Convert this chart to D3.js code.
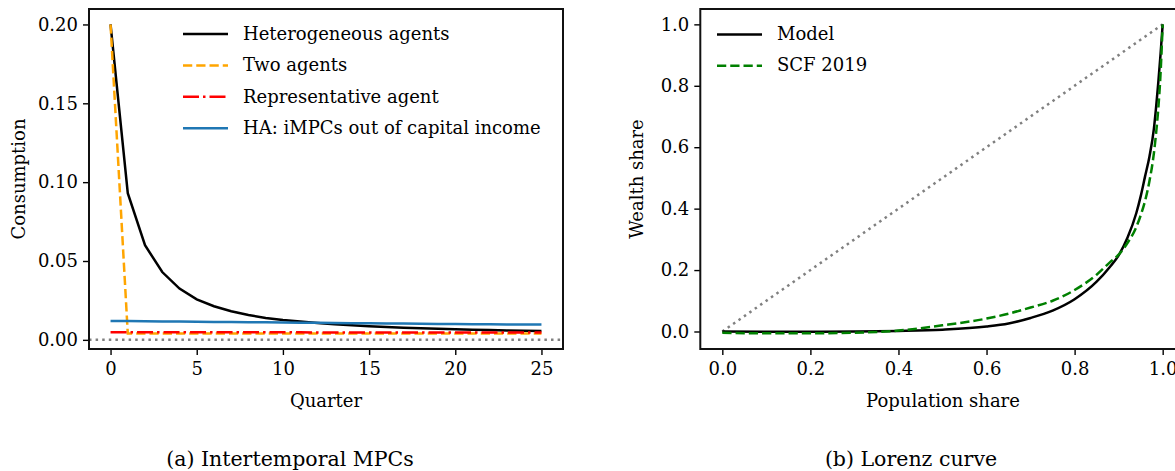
<!DOCTYPE html>
<html>
<head>
<meta charset="utf-8">
<script src="https://cdn.jsdelivr.net/npm/d3@7"></script>
<style>
  body { margin: 0; background: #fff; }
  svg text { font-family: "DejaVu Serif", serif; fill: #000; }
</style>
</head>
<body>
<svg id="chart" width="1175" height="471"></svg>
<script>
// ---- panel (a): intertemporal MPCs ----
const quarters = d3.range(0, 26);
const hetAgents = [0.2, 0.093, 0.060, 0.043, 0.0325, 0.0257, 0.0213, 0.0181, 0.0158, 0.0139,
  0.0126, 0.0116, 0.0107, 0.0099, 0.0092, 0.0086, 0.0081, 0.0077, 0.0073, 0.0070,
  0.0067, 0.0064, 0.0062, 0.0060, 0.0058, 0.0056];
const twoAgents = [0.2, 0.004, 0.004, 0.004, 0.004, 0.004, 0.004, 0.004, 0.004, 0.004,
  0.004, 0.004, 0.004, 0.004, 0.004, 0.004, 0.004, 0.004, 0.004, 0.004,
  0.004, 0.004, 0.004, 0.004, 0.004, 0.004];
const repAgent = [0.0049, 0.0049, 0.0049, 0.0049, 0.0049, 0.0048, 0.0048, 0.0048, 0.0048, 0.0048,
  0.0048, 0.0048, 0.0047, 0.0047, 0.0047, 0.0047, 0.0047, 0.0047, 0.0047, 0.0046,
  0.0046, 0.0046, 0.0046, 0.0046, 0.0046, 0.0046];
const haCapital = [0.0120, 0.0119, 0.0118, 0.0117, 0.0116, 0.0115, 0.0114, 0.0113, 0.0112, 0.0111,
  0.0110, 0.0109, 0.0108, 0.0107, 0.0106, 0.0105, 0.0104, 0.0103, 0.0102, 0.0101,
  0.0100, 0.0099, 0.0099, 0.0098, 0.0097, 0.0097];
const mpcTicksX = [0, 5, 10, 15, 20, 25];
const mpcTicksY = [0, 0.05, 0.10, 0.15, 0.20];

// ---- panel (b): Lorenz curve ----
const popShare = [0, 0.1, 0.2, 0.3, 0.4, 0.5, 0.6, 0.65, 0.7, 0.75, 0.8, 0.85, 0.88, 0.9,
  0.92, 0.94, 0.95, 0.96, 0.97, 0.98, 0.985, 0.99, 0.995, 1.0];
const modelWealth = [0, -0.001, -0.001, 0, 0.002, 0.006, 0.016, 0.026, 0.044, 0.068, 0.105, 0.162, 0.21, 0.248,
  0.305, 0.385, 0.44, 0.505, 0.57, 0.66, 0.73, 0.81, 0.9, 1.0];
const scfWealth = [-0.004, -0.006, -0.006, -0.004, 0.003, 0.02, 0.042, 0.058, 0.078, 0.1, 0.135, 0.185, 0.225, 0.25,
  0.288, 0.34, 0.378, 0.425, 0.49, 0.58, 0.645, 0.725, 0.835, 1.0];
const lorenzTicks = [0, 0.2, 0.4, 0.6, 0.8, 1.0];

const svg = d3.select("#chart");
const lw = 2.5;
const fs = 18;

function makePanel(opt) {
  const g = svg.append("g");
  const x = d3.scaleLinear().domain(opt.xDomain).range([opt.left, opt.right]);
  const y = d3.scaleLinear().domain(opt.yDomain).range([opt.bottom, opt.top]);

  g.append("clipPath").attr("id", opt.id + "clip")
    .append("rect")
    .attr("x", opt.left).attr("y", opt.top)
    .attr("width", opt.right - opt.left).attr("height", opt.bottom - opt.top);

  const plot = g.append("g").attr("clip-path", `url(#${opt.id}clip)`);

  // axes
  const xAxis = g.append("g")
    .attr("transform", `translate(0,${opt.bottom})`)
    .call(d3.axisBottom(x).tickValues(opt.xTicks).tickFormat(opt.xFmt).tickSize(6).tickPadding(5));
  const yAxis = g.append("g")
    .attr("transform", `translate(${opt.left},0)`)
    .call(d3.axisLeft(y).tickValues(opt.yTicks).tickFormat(opt.yFmt).tickSize(6).tickPadding(5));
  [xAxis, yAxis].forEach(a => {
    a.select(".domain").remove();
    a.selectAll(".tick line").attr("stroke", "#000").attr("stroke-width", 1.4);
    a.selectAll(".tick text").attr("font-size", fs).attr("font-family", "DejaVu Serif");
  });
  xAxis.selectAll(".tick text").attr("dy", "0.85em");

  // frame
  g.append("rect")
    .attr("x", opt.left).attr("y", opt.top)
    .attr("width", opt.right - opt.left).attr("height", opt.bottom - opt.top)
    .attr("fill", "none").attr("stroke", "#111").attr("stroke-width", 2);

  // axis titles
  g.append("text")
    .attr("x", opt.xLabelX).attr("y", 407)
    .attr("text-anchor", "middle").attr("font-size", fs)
    .text(opt.xLabel);
  g.append("text")
    .attr("transform", `translate(${opt.yLabelX},${(opt.top + opt.bottom) / 2}) rotate(-90)`)
    .attr("text-anchor", "middle").attr("font-size", fs)
    .text(opt.yLabel);
  g.append("text")
    .attr("x", opt.captionX).attr("y", 466)
    .attr("text-anchor", "middle").attr("font-size", 20.5)
    .text(opt.caption);

  return { g, plot, x, y };
}

function legend(g, items, x0, y0, step) {
  items.forEach((it, i) => {
    const yy = y0 + i * step;
    g.append("line")
      .attr("x1", x0).attr("x2", x0 + 45).attr("y1", yy).attr("y2", yy)
      .attr("stroke", it.color).attr("stroke-width", lw)
      .attr("stroke-dasharray", it.dash || null);
    g.append("text")
      .attr("x", x0 + 60).attr("y", yy)
      .attr("dy", "0.32em").attr("font-size", fs)
      .text(it.label);
  });
}

const dashed = "9.25,4";
const dashDot = "16,4,2.5,4";
const dotted = "2.5,4.1";

// ---- panel (a) ----
const A = makePanel({
  id: "a", left: 89, right: 563, top: 9, bottom: 349,
  xDomain: [-1.25, 26.25], yDomain: [-0.0058, 0.2098],
  xTicks: mpcTicksX, yTicks: mpcTicksY,
  xFmt: d3.format("d"), yFmt: d3.format(".2f"),
  xLabel: "Quarter", xLabelX: 326,
  yLabel: "Consumption", yLabelX: 25,
  caption: "(a) Intertemporal MPCs", captionX: 290
});

A.plot.append("line")
  .attr("x1", A.x.range()[0]).attr("x2", A.x.range()[1])
  .attr("y1", A.y(0)).attr("y2", A.y(0))
  .attr("stroke", "#808080").attr("stroke-width", lw).attr("stroke-dasharray", dotted);

const lineA = vals => d3.line().x((d, i) => A.x(quarters[i])).y(d => A.y(d))(vals);
const seriesA = [
  { vals: hetAgents, color: "#000", label: "Heterogeneous agents" },
  { vals: twoAgents, color: "#FFA500", dash: dashed, label: "Two agents" },
  { vals: repAgent, color: "#FF0000", dash: dashDot, label: "Representative agent" },
  { vals: haCapital, color: "#1f77b4", label: "HA: iMPCs out of capital income" }
];
seriesA.forEach(s => {
  A.plot.append("path")
    .attr("d", lineA(s.vals))
    .attr("fill", "none").attr("stroke", s.color).attr("stroke-width", lw)
    .attr("stroke-dasharray", s.dash || null);
});
legend(A.g, seriesA, 183, 34, 31.4);

// ---- panel (b) ----
const B = makePanel({
  id: "b", left: 700.3, right: 1184.7, top: 9, bottom: 349,
  xDomain: [-0.05, 1.05], yDomain: [-0.057, 1.05],
  xTicks: lorenzTicks, yTicks: lorenzTicks,
  xFmt: d3.format(".1f"), yFmt: d3.format(".1f"),
  xLabel: "Population share", xLabelX: 943,
  yLabel: "Wealth share", yLabelX: 643,
  caption: "(b) Lorenz curve", captionX: 911
});

B.plot.append("line")
  .attr("x1", B.x(0)).attr("x2", B.x(1))
  .attr("y1", B.y(0)).attr("y2", B.y(1))
  .attr("stroke", "#808080").attr("stroke-width", lw).attr("stroke-dasharray", dotted);

const lineB = vals => d3.line().curve(d3.curveMonotoneX)
  .x((d, i) => B.x(popShare[i])).y(d => B.y(d))(vals);
const seriesB = [
  { vals: modelWealth, color: "#000", label: "Model" },
  { vals: scfWealth, color: "#008000", dash: dashed, label: "SCF 2019" }
];
seriesB.forEach(s => {
  B.plot.append("path")
    .attr("d", lineB(s.vals))
    .attr("fill", "none").attr("stroke", s.color).attr("stroke-width", lw)
    .attr("stroke-dasharray", s.dash || null);
});
legend(B.g, seriesB, 717, 34.5, 31.2);
</script>
</body>
</html>
